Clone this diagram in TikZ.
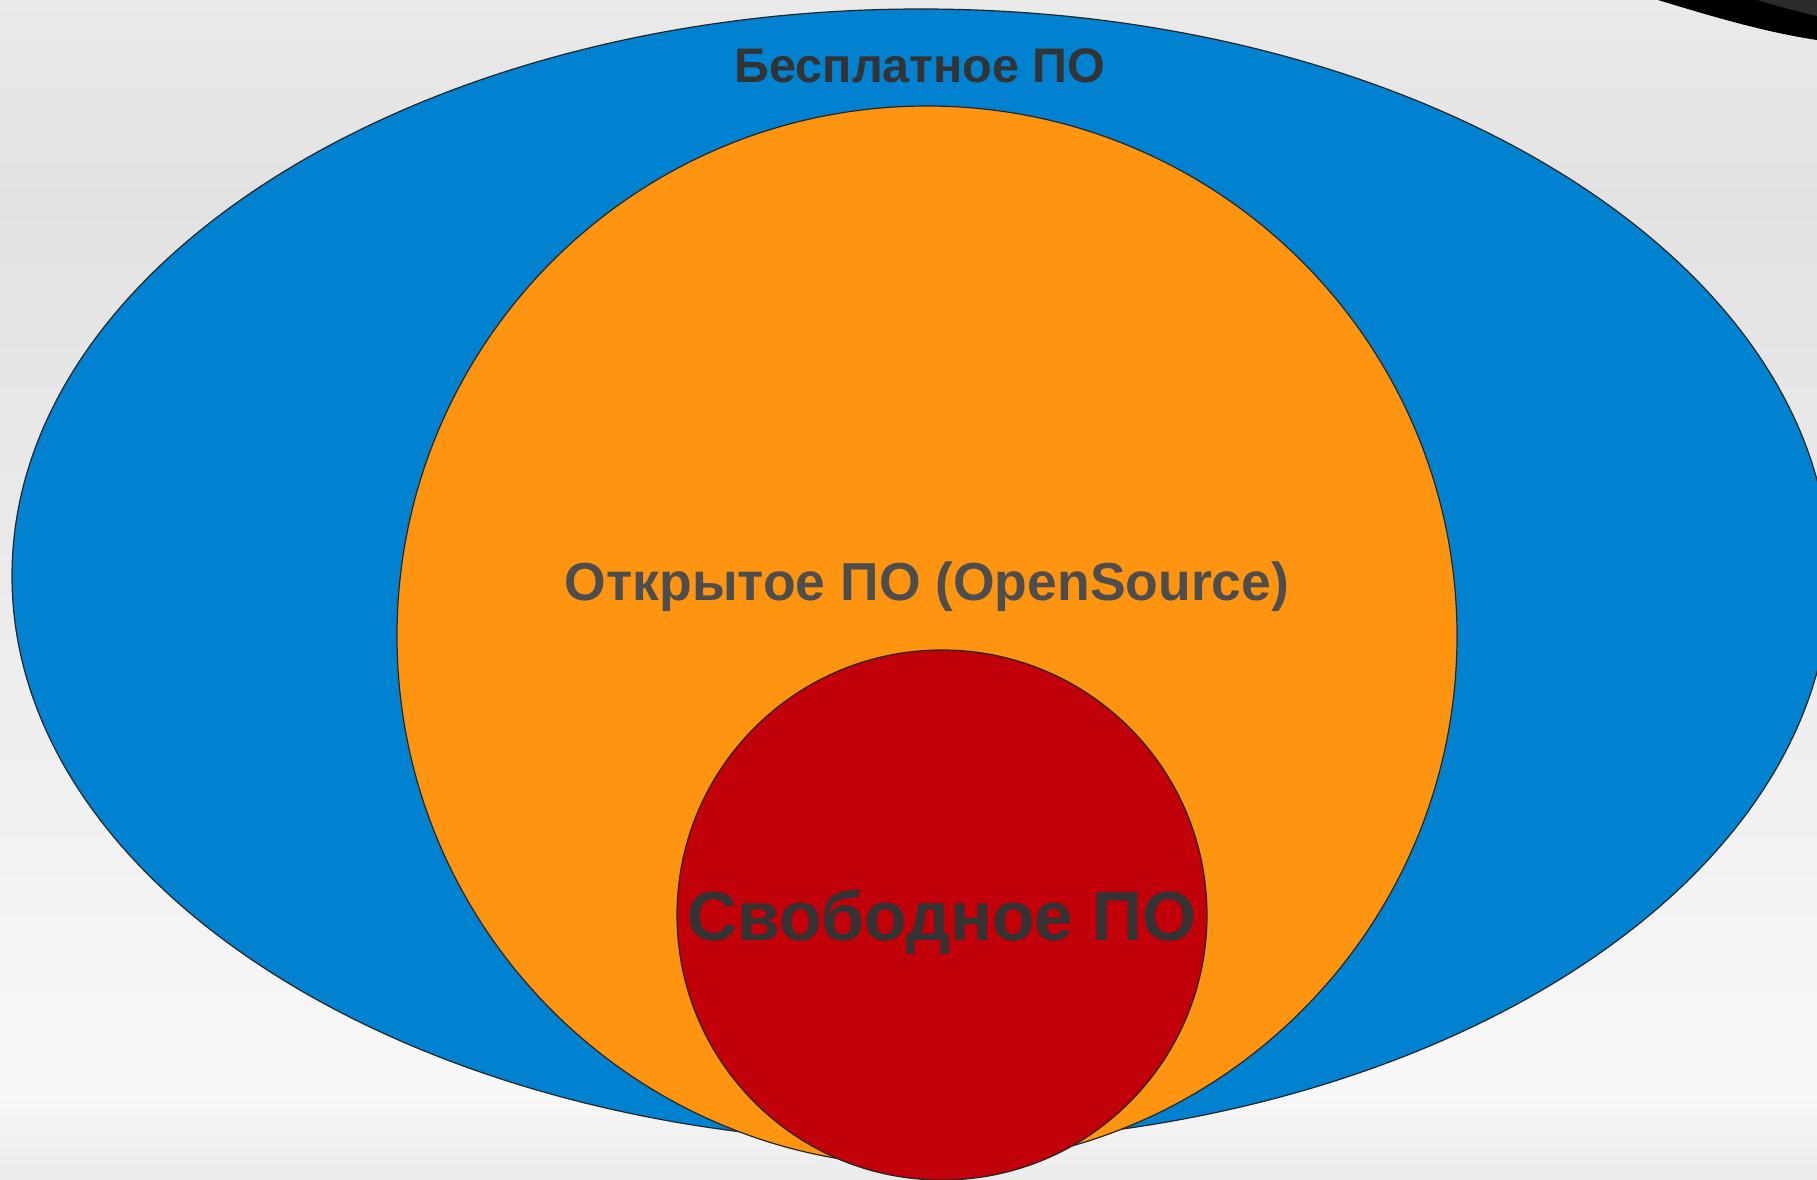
\documentclass[tikz,border=0pt]{standalone}
\usepackage{fontspec}
\setmainfont{Liberation Sans}
\definecolor{bluefill}{HTML}{0082D0}
\definecolor{orangefill}{HTML}{FF9410}
\definecolor{redfill}{HTML}{C1000A}
\definecolor{txtdark}{HTML}{333333}
\definecolor{txtmid}{HTML}{4D4D4D}
\definecolor{bgA}{HTML}{EAEAEA}
\definecolor{bgB}{HTML}{E2E2E2}
\definecolor{bgC}{HTML}{EEEEEE}
\definecolor{bgD}{HTML}{F8F8F8}
\definecolor{bgE}{HTML}{EBEBEB}
\definecolor{arcgray}{HTML}{2B2B2B}
\begin{document}
\begin{tikzpicture}[x=1pt,y=-1pt,
  setshape/.style={draw=black!85,line width=1.2pt},
  txtlabel/.style={inner sep=0pt,anchor=base}]
\useasboundingbox (0,0) rectangle (1817,1180);
% background
\fill[top color=bgA,bottom color=bgB] (0,0) rectangle (1817,200.5);
\fill[top color=bgB,bottom color=bgC] (0,200) rectangle (1817,700.5);
\fill[top color=bgC,bottom color=bgD] (0,700) rectangle (1817,1090.5);
\fill[top color=bgD,bottom color=bgE] (0,1090) rectangle (1817,1180);
% dark arc at top right
\fill[black] (1658,0) .. controls (1720,19) and (1770,33) .. (1817,40) -- (1817,0) -- cycle;
\fill[arcgray] (1757,0) .. controls (1780,7) and (1800,12) .. (1817,16) -- (1817,0) -- cycle;
% sets
\begin{scope}
\clip (0,0) rectangle (1817,1180);
\draw[setshape,fill=bluefill] (921,576) ellipse [x radius=909pt, y radius=567pt];
\draw[setshape,fill=orangefill] (927,636) circle [radius=530pt];
\draw[setshape,fill=redfill] (942,915) circle [radius=265pt];
\end{scope}
% labels
\node[txtlabel,text=txtdark,font=\bfseries\fontsize{48.5}{58}\selectfont] (freeware) at (920,83) {Бесплатное ПО};
\node[txtlabel,text=txtmid,font=\bfseries\fontsize{53.5}{64}\selectfont] (opensrc) at (927,600) {Открытое ПО (OpenSource)};
\node[txtlabel,text=txtdark,font=\bfseries\fontsize{69.5}{84}\selectfont] (libre) at (942,940) {Свободное ПО};
\end{tikzpicture}
\end{document}
